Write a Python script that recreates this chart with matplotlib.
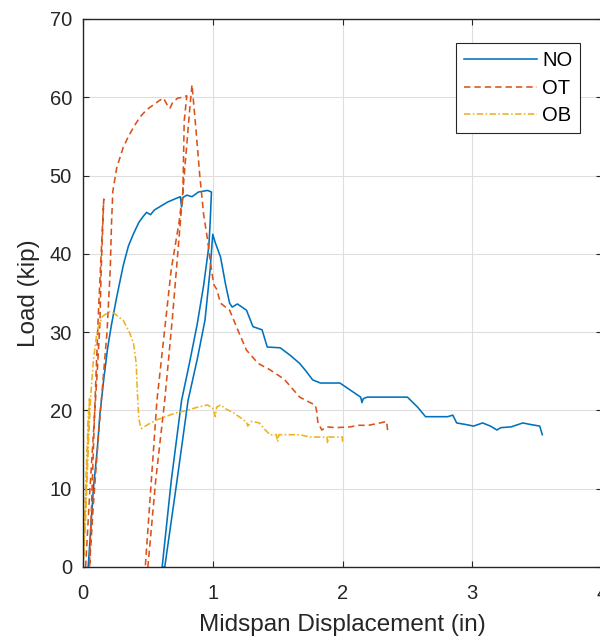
import matplotlib
matplotlib.use("Agg")
import matplotlib.pyplot as plt

plt.rcParams['font.family'] = ['Liberation Sans', 'DejaVu Sans']

# NO specimen (in, kip)
no_x = [0.04, 0.06, 0.08, 0.11, 0.13, 0.16, 0.19, 0.22, 0.26, 0.31, 0.35, 0.39, 0.43, 0.46, 0.49, 0.52,
        0.55, 0.59, 0.65, 0.72, 0.75, 0.76, 0.77, 0.80, 0.84, 0.89, 0.96, 0.99,
        0.98, 0.97, 0.93, 0.88, 0.82, 0.76, 0.68, 0.61,
        0.63, 0.72, 0.81, 0.88, 0.94, 0.98, 1.00,
        1.02, 1.06, 1.10, 1.13, 1.15, 1.19, 1.26, 1.31, 1.38, 1.42, 1.52, 1.60, 1.67, 1.72, 1.77, 1.83,
        1.98, 2.06, 2.14, 2.15, 2.16, 2.19, 2.35, 2.50, 2.58, 2.64, 2.72, 2.81, 2.85, 2.88, 2.95, 3.01,
        3.08, 3.14, 3.19, 3.22, 3.30, 3.39, 3.45, 3.52, 3.54]
no_y = [0.0, 5.0, 10.0, 15.0, 19.5, 24.0, 28.0, 31.0, 34.5, 38.5, 41.0, 42.6, 44.0, 44.7, 45.3, 45.0,
        45.6, 46.0, 46.6, 47.1, 47.3, 46.0, 47.2, 47.5, 47.3, 47.9, 48.1, 47.9,
        44.0, 41.0, 36.0, 31.0, 26.0, 21.3, 11.0, 0.0,
        0.0, 10.5, 21.3, 26.5, 31.5, 38.0, 42.5,
        41.4, 39.6, 36.0, 33.7, 33.2, 33.6, 32.8, 30.7, 30.3, 28.1, 28.0, 27.0, 26.0, 25.0, 23.9, 23.5,
        23.5, 22.6, 21.7, 21.0, 21.5, 21.7, 21.7, 21.7, 20.4, 19.2, 19.2, 19.2, 19.4, 18.4, 18.2, 18.0,
        18.4, 18.0, 17.5, 17.8, 17.9, 18.4, 18.2, 18.0, 16.9]

# OT specimen
ot_x = [0.02, 0.05, 0.08, 0.11, 0.13, 0.14, 0.16, 0.12, 0.09, 0.05,
        0.08, 0.12, 0.16, 0.185, 0.21, 0.22, 0.23, 0.26, 0.31, 0.35, 0.39, 0.44, 0.49, 0.54, 0.59,
        0.62, 0.65, 0.67, 0.69, 0.73, 0.77, 0.80,
        0.78, 0.77, 0.74, 0.68, 0.57, 0.48,
        0.50, 0.56, 0.63, 0.69, 0.75, 0.80, 0.82, 0.84,
        0.87, 0.90, 0.93, 0.96, 0.99, 1.01, 1.03, 1.06, 1.13, 1.20, 1.26, 1.35, 1.44, 1.55, 1.67,
        1.75, 1.79, 1.80, 1.81, 1.84, 1.88, 1.95, 2.06, 2.12, 2.20, 2.29, 2.34, 2.35]
ot_y = [0.0, 9.0, 17.0, 25.0, 31.0, 38.0, 47.0, 33.0, 20.0, 0.0,
        8.0, 17.0, 25.0, 30.0, 38.0, 44.0, 48.0, 51.0, 53.6, 55.0, 56.2, 57.5, 58.4, 59.0, 59.6,
        59.9, 59.0, 58.6, 59.3, 59.9, 60.0, 60.2,
        57.0, 48.0, 44.0, 38.0, 21.3, 0.0,
        0.0, 11.0, 21.3, 32.0, 44.0, 54.0, 58.0, 61.6,
        56.0, 50.0, 45.0, 41.8, 37.9, 36.0, 35.5, 33.7, 32.8, 30.0, 27.7, 26.0, 25.2, 24.0, 21.7,
        21.0, 20.7, 20.0, 18.5, 17.5, 17.9, 17.8, 17.9, 18.1, 18.1, 18.4, 18.6, 17.1]

# OB specimen
ob_x = [0.00, 0.02, 0.04, 0.05, 0.03, 0.01, 0.00,
        0.02, 0.04, 0.06, 0.08, 0.11, 0.15, 0.20, 0.24, 0.31, 0.36, 0.39, 0.41, 0.42, 0.43, 0.44, 0.45,
        0.50, 0.57, 0.65, 0.72, 0.80, 0.88, 0.96, 1.00, 1.02, 1.03, 1.06, 1.10, 1.16, 1.22, 1.26, 1.27,
        1.30, 1.36, 1.40, 1.44, 1.49, 1.50, 1.51, 1.58, 1.67, 1.75, 1.88, 1.885, 1.89, 1.95, 2.00, 2.00]
ob_y = [0.0, 10.0, 19.0, 21.5, 12.0, 4.0, 0.0,
        6.0, 15.0, 22.0, 26.4, 30.3, 32.0, 32.6, 32.4, 31.5, 29.9, 28.5, 26.0, 22.0, 19.0, 18.2, 17.7,
        18.2, 18.8, 19.3, 19.7, 20.0, 20.4, 20.7, 20.3, 19.2, 20.4, 20.7, 20.2, 19.7, 19.0, 18.5, 18.0,
        18.6, 18.4, 17.6, 16.9, 16.9, 16.0, 16.9, 16.9, 16.9, 16.6, 16.6, 15.8, 16.6, 16.6, 16.6, 16.0]

series = [
    (no_x, no_y, "NO", "#0072BD", "-"),
    (ot_x, ot_y, "OT", "#D95319", (0, (4, 2.5))),
    (ob_x, ob_y, "OB", "#EDB120", (0, (4, 1.5, 1, 1.5))),
]

fig = plt.figure(figsize=(6, 6.39), dpi=100)
ax = fig.add_axes([83 / 600, 1 - 567 / 639, 519 / 600, 548 / 639])

for x, y, name, color, ls in series:
    ax.plot(x, y, color=color, linestyle=ls, linewidth=1.15, label=name)

ax.set_xlim(0, 4)
ax.set_ylim(0, 70)
ax.set_xticks([0, 1, 2, 3, 4])
ax.set_yticks(range(0, 71, 10))
ax.grid(True, color="#dedede", linewidth=0.8)
ax.set_axisbelow(True)

for s in ax.spines.values():
    s.set_color("#262626")
    s.set_linewidth(1.0)
ax.tick_params(direction="in", top=True, right=True, length=4, width=0.8,
               colors="#262626", labelsize=14.5)
ax.tick_params(axis="x", pad=12)
ax.tick_params(axis="y", pad=8)

ax.set_xlabel("Midspan Displacement (in)", fontsize=17.5, color="#262626", labelpad=8)
ax.set_ylabel("Load (kip)", fontsize=17.5, color="#262626", labelpad=7)

leg = ax.legend(loc="upper right", bbox_to_anchor=(0.958, 0.956), borderaxespad=0,
                fontsize=14.5, handlelength=3.6, handletextpad=0.25, labelspacing=0.42,
                fancybox=False, framealpha=1, edgecolor="#262626", borderpad=0.4)
leg.get_frame().set_linewidth(0.8)

fig.savefig("out.png", dpi=100)
